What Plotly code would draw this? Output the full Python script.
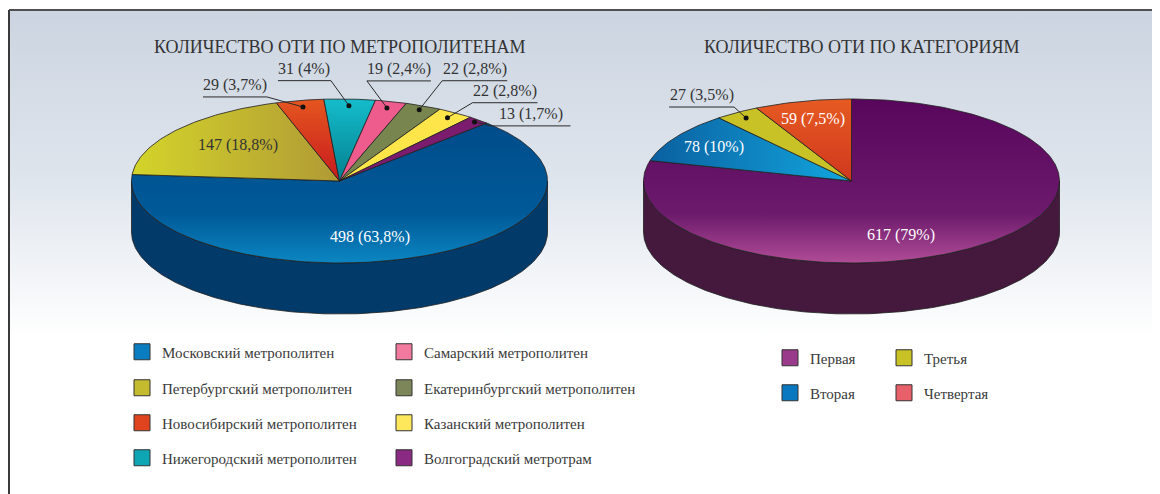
import base64
import numpy as np
import plotly.graph_objects as go

# ---------------- data ----------------
metro_names = [
    "Московский метрополитен",
    "Петербургский метрополитен",
    "Новосибирский метрополитен",
    "Нижегородский метрополитен",
    "Самарский метрополитен",
    "Екатеринбургский метрополитен",
    "Казанский метрополитен",
    "Волгоградский метротрам",
]
metro_values = [498, 147, 29, 31, 19, 22, 22, 13]
metro_labels = ["498 (63,8%)", "147 (18,8%)", "29 (3,7%)", "31 (4%)",
                "19 (2,4%)", "22 (2,8%)", "22 (2,8%)", "13 (1,7%)"]

cat_names = ["Первая", "Вторая", "Третья", "Четвертая"]
cat_values = [617, 78, 27, 59]
cat_labels = ["617 (79%)", "78 (10%)", "27 (3,5%)", "59 (7,5%)"]

chart_titles = ["КОЛИЧЕСТВО ОТИ ПО МЕТРОПОЛИТЕНАМ", "КОЛИЧЕСТВО ОТИ ПО КАТЕГОРИЯМ"]

# ---------------- style ----------------
PW, PH = 1160, 494          # page (window) size
OFF = 8                     # default body margin of the page
W, H = PW - OFF, PH - OFF   # figure size
FONT = "Liberation Serif"
TXT = "#333333"
RX, RY, DEPTH = 208, 82, 51
EDGE = "#1f1f1f"

# gradient specs: ("v", [(pos from bottom, colour), ...]) / ("h", left colour, right colour) / ("s", colour)
metro_style = dict(
    cx=339.5, cy=181, start=45,
    top=[("v", [(0, "#0b86c2"), (0.35, "#005a98"), (1, "#004c8a")]), ("h", "#d4d42a", "#b09a35"),
         ("v", [(0, "#c81a1e"), (1, "#e4561f")]), ("v", [(0, "#05808f"), (1, "#14bccb")]),
         ("s", "#ee5c8e"), ("s", "#78854f"), ("s", "#fde54a"), ("s", "#7b1c6f")],
    side=["#023a6a", "#8a7d28", "#8e1a14", "#036570", "#a8365c", "#4f5836", "#b8a52a", "#4d1046"],
    legend=["#0a7cc0", "#c4bc2e", "#e0441e", "#0ea5b5", "#f27a9e", "#7d8658", "#fde85c", "#8a2a82"],
    # ("in", r, angle shift, colour) or ("out", r_dot, dx, dy, direction, underline length)
    place=[("in", 0.70, -8, "#ffffff"), ("in", 0.66, -3.6, TXT), ("out", 0.92, -36, -10, -1, 64),
           ("out", 0.92, -18, -25, -1, 53), ("out", 0.92, -20, -27, 1, 64), ("out", 0.95, 23, -29, 1, 65),
           ("out", 0.93, 25, -15, 1, 65), ("out", 0.97, 16, 4, 1, 80)],
)
cat_style = dict(
    cx=851.5, cy=181, start=90,
    top=[("v", [(0, "#b04c96"), (0.3, "#6c1a6c"), (1, "#58065c")]), ("h", "#0a60a0", "#12a6de"),
         ("s", "#c9c227"), ("v", [(0, "#d0381e"), (1, "#e65a22")])],
    side=["#44193d", "#064a78", "#8a8418", "#962a14"],
    legend=["#9a3a8a", "#0a78c0", "#c9c227", "#e8606a"],
    place=[("in", 0.70, -18, "#ffffff"), ("in", 0.78, 0, "#ffffff"), ("out", 0.92, -12, -11, -1, 65),
           ("in", 0.78, 0, "#ffffff")],
)


def arc(cx, cy, t0, t1, dy=0.0):
    n = max(int(abs(t1 - t0) / 1.0) + 2, 3)
    t = np.radians(np.linspace(t0, t1, n))
    return list(cx + RX * np.cos(t)), list(cy - RY * np.sin(t) + dy)


def slice_angles(values, start):
    v = np.asarray(values, float)
    span = v / v.sum() * 360.0
    ends = start - np.cumsum(span)
    starts = ends + span
    return starts, ends


def ell(cx, cy, theta, r):
    t = np.radians(theta)
    return cx + r * RX * np.cos(t), cy - r * RY * np.sin(t)


def px(x):
    return (x - OFF) / W


def py(y):
    return 1 - (y - OFF) / H


fig = go.Figure()
annotations = []


def draw_pie(values, labels, st):
    cx, cy = st["cx"], st["cy"]
    starts, ends = slice_angles(values, st["start"])
    # side walls (front half only)
    for i, (s, e) in enumerate(zip(starts, ends)):
        for k in range(-2, 3):
            lo, hi = max(e, -180 + 360 * k), min(s, 360 * k)
            if hi - lo > 1e-6:
                xt, yt = arc(cx, cy, hi, lo)
                xb, yb = arc(cx, cy, lo, hi, DEPTH)
                fig.add_trace(go.Scatter(
                    x=xt + xb + [xt[0]], y=yt + yb + [yt[0]], mode="lines", fill="toself",
                    fillcolor=st["side"][i], line=dict(color=EDGE, width=0.8),
                    showlegend=False, hoverinfo="skip"))
    # top faces
    for i, (s, e) in enumerate(zip(starts, ends)):
        xa, ya = arc(cx, cy, s, e)
        xs = [cx] + xa + [cx]
        ys = [cy] + ya + [cy]
        spec = st["top"][i]
        kw = {}
        if spec[0] == "s":
            kw["fillcolor"] = spec[1]
        elif spec[0] == "v":
            # y axis is reversed: colourscale 0 sits at the bottom of the screen
            kw["fillgradient"] = dict(type="vertical", colorscale=[list(c) for c in spec[1]])
        else:
            kw["fillgradient"] = dict(type="horizontal", colorscale=[[0, spec[1]], [1, spec[2]]])
        fig.add_trace(go.Scatter(x=xs, y=ys, mode="lines", fill="toself",
                                 line=dict(color=EDGE, width=0.8), showlegend=False,
                                 hoverinfo="skip", **kw))
    # labels
    for i, (s, e) in enumerate(zip(starts, ends)):
        mid = (s + e) / 2
        p = st["place"][i]
        if p[0] == "in":
            x, y = ell(cx, cy, mid + p[2], p[1])
            annotations.append(dict(x=x, y=y, text=labels[i], showarrow=False,
                                    font=dict(family=FONT, size=16, color=p[3])))
        else:
            _, r, dx, dy, d, ln = p
            x0, y0 = ell(cx, cy, mid, r)
            x1, y1 = x0 + dx, y0 + dy
            x2 = x1 + d * ln
            fig.add_trace(go.Scatter(x=[x0, x1, x2], y=[y0, y1, y1], mode="lines",
                                     line=dict(color="#2a2a2a", width=1),
                                     showlegend=False, hoverinfo="skip"))
            fig.add_trace(go.Scatter(x=[x0], y=[y0], mode="markers",
                                     marker=dict(size=5, color="#111111"),
                                     showlegend=False, hoverinfo="skip"))
            annotations.append(dict(x=(x1 + x2) / 2, y=y1 - 1, yanchor="bottom",
                                    text=labels[i], showarrow=False,
                                    font=dict(family=FONT, size=16, color=TXT)))


draw_pie(metro_values, metro_labels, metro_style)
draw_pie(cat_values, cat_labels, cat_style)

annotations.append(dict(x=metro_style["cx"], y=47, text=chart_titles[0], showarrow=False,
                        font=dict(family=FONT, size=18, color=TXT)))
annotations.append(dict(x=cat_style["cx"] + 10, y=47, text=chart_titles[1], showarrow=False,
                        font=dict(family=FONT, size=18, color=TXT)))


# ---------------- legends ----------------
def legend_item(name, color, lg):
    fig.add_trace(go.Scatter(x=[None], y=[None], mode="markers", name=name, legend=lg,
                             marker=dict(symbol="square", size=16, color=color,
                                         line=dict(color="#333333", width=1)),
                             showlegend=True, hoverinfo="skip"))


left_rows = ["legend", "legend2", "legend3", "legend4"]
for r, lg in enumerate(left_rows):
    legend_item(metro_names[r], metro_style["legend"][r], lg)
    legend_item(metro_names[r + 4], metro_style["legend"][r + 4], lg)
right_rows = ["legend5", "legend6"]
cat_rows = [[0, 2], [1, 3]]
for r, lg in enumerate(right_rows):
    for j in cat_rows[r]:
        legend_item(cat_names[j], cat_style["legend"][j], lg)

legend_common = dict(orientation="h", xanchor="left", yanchor="middle",
                     font=dict(family=FONT, size=15, color="#3a3a3a"),
                     bgcolor="rgba(0,0,0,0)", entrywidthmode="pixels",
                     itemclick=False, itemdoubleclick=False)
legends = {}
for r, lg in enumerate(left_rows):
    yy = [352, 388, 423, 458][r]
    legends[lg] = dict(legend_common, x=px(122), y=py(yy), entrywidth=217)
for r, lg in enumerate(right_rows):
    yy = [358, 393][r]
    legends[lg] = dict(legend_common, x=px(770), y=py(yy), entrywidth=69)

# ---------------- background ----------------
svg = ('<svg xmlns="http://www.w3.org/2000/svg" width="1152" height="484">'
       '<defs><linearGradient id="g" x1="0" y1="0" x2="0" y2="1">'
       '<stop offset="0" stop-color="#cbd4e0"/><stop offset="0.35" stop-color="#dfe5ed"/>'
       '<stop offset="0.68" stop-color="#ffffff"/></linearGradient></defs>'
       '<rect width="1152" height="484" fill="url(#g)"/></svg>')
bg_src = "data:image/svg+xml;base64," + base64.b64encode(svg.encode()).decode()

fig.update_layout(
    width=W, height=H, margin=dict(l=0, r=0, t=0, b=0),
    paper_bgcolor="white", plot_bgcolor="rgba(0,0,0,0)",
    xaxis=dict(range=[OFF, PW], visible=False, fixedrange=True),
    yaxis=dict(range=[PH, OFF], visible=False, fixedrange=True),
    hovermode=False,
    annotations=annotations,
    images=[dict(source=bg_src, xref="paper", yref="paper", x=px(9), y=py(10),
                 sizex=(PW - 9) / W, sizey=(PH - 10) / H, sizing="stretch", layer="below",
                 xanchor="left", yanchor="top")],
    shapes=[dict(type="line", xref="x", yref="y", x0=9, y0=10, x1=PW, y1=10,
                 line=dict(color="#505050", width=2)),
            dict(type="line", xref="x", yref="y", x0=9, y0=10, x1=9, y1=PH,
                 line=dict(color="#3a3a3a", width=2))],
    **legends,
)

fig.write_html("out.html")
